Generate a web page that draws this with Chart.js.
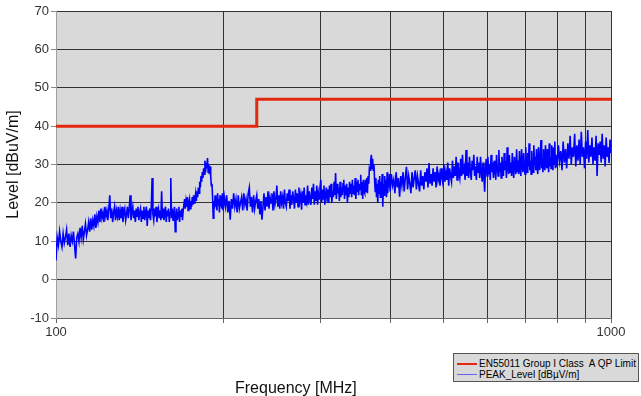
<!DOCTYPE html>
<html>
<head>
<meta charset="utf-8">
<script src="https://cdn.jsdelivr.net/npm/chart.js@4.4.0/dist/chart.umd.min.js"></script>
<style>
body { margin: 0; background: #fff; }
#wrap { position: relative; width: 641px; height: 396px; font-family: "Liberation Sans", Arial, sans-serif; }
#xtitle { position: absolute; left: 235px; top: 379px; font-size: 16px; color: #111; }
#legend { position: absolute; left: 453px; top: 353px; width: 186px; height: 29px; background: #d9d9d9; border: 1px solid #555; box-sizing: border-box; padding: 4px 0 0 3px; }
.row { display: flex; align-items: center; height: 11px; font-size: 10px; color: #000; white-space: pre; }
.swatch { flex: none; width: 20px; margin-right: 2px; }
</style>
</head>
<body>
<div id="wrap">
  <canvas id="emc" width="641" height="396"></canvas>
  <div id="xtitle">Frequency [MHz]</div>
  <div id="legend"></div>
</div>
<script>
// limit line
const limitFreq = [100, 230, 230, 1000];
const limitLevel = [40, 40, 47, 47];

// peak sweep, 100-199.5 MHz
const sweepFreqA = [100,100.5,101,101.5,102,102.5,103,103.5,104,104.5,
  105,105.5,106,106.5,107,107.5,108,108.5,109,109.5,
  110,110.5,111,111.5,112,112.5,113,113.5,114,114.5,
  115,115.5,116,116.5,117,117.5,118,118.5,119,119.5,
  120,120.5,121,121.5,122,122.5,123,123.5,124,124.5,
  125,125.5,126,126.5,127,127.5,128,128.5,129,129.5,
  130,130.5,131,131.5,132,132.5,133,133.5,134,134.5,
  135,135.5,136,136.5,137,137.5,138,138.5,139,139.5,
  140,140.5,141,141.5,142,142.5,143,143.5,144,144.5,
  145,145.5,146,146.5,147,147.5,148,148.5,149,149.5,
  150,150.5,151,151.5,152,152.5,153,153.5,154,154.5,
  155,155.5,156,156.5,157,157.5,158,158.5,159,159.5,
  160,160.5,161,161.5,162,162.5,163,163.5,164,164.5,
  165,165.5,166,166.5,167,167.5,168,168.5,169,169.5,
  170,170.5,171,171.5,172,172.5,173,173.5,174,174.5,
  175,175.5,176,176.5,177,177.5,178,178.5,179,179.5,
  180,180.5,181,181.5,182,182.5,183,183.5,184,184.5,
  185,185.5,186,186.5,187,187.5,188,188.5,189,189.5,
  190,190.5,191,191.5,192,192.5,193,193.5,194,194.5,
  195,195.5,196,196.5,197,197.5,198,198.5,199,199.5];
const peakLevelA = [5,11,9,12.5,10,8.5,12,9.5,11,13,
  9,12,8.5,11.5,10,12.5,9,5.5,11,12,
  10,13.5,11,14,10.5,12.5,14.5,11.5,13,15,
  12.5,16,13,15.5,14,17,13.5,16.5,15,18,
  15,18.5,16,17.5,15,19,16.5,18,15.5,18.5,
  22,16,18.5,15,17.5,19,15.5,18,16.5,19,
  15.5,18,16,19,15,17.5,18.5,15.5,17,19,
  16,18.5,22,15.5,17.5,19,16,18,15,18.5,
  16.5,19,15.5,17.5,18.5,15,18,16,19,15.5,
  17.5,19,14,18,16,18.5,15.5,19,26.5,17,
  15.5,18.5,16.5,19,15,17.5,18.5,16,18,15.5,
  23,16,18.5,15.5,17.5,19,15,18,16.5,18.5,
  15,17.5,26.5,16,18.5,15.5,17,19,12.5,16,
  18.5,15.5,17.5,19,15,18,16.5,18.5,15.5,18,
  18,21,18.5,20.5,19,21.5,18,20,21,18.5,
  20.5,19,21.5,19.5,22,20,21,22.5,20.5,23,
  21.5,24,22.5,25.5,24,27,25.5,28,26.5,29,
  27.5,31,28,30.5,29,31.7,28,30,27.5,29.5,
  27,24.5,25,21.5,16,20.5,18.5,22,19,21,
  18,22.5,19.5,21,17.5,22,19,21.5,18.5,22.5];

// 200-399 MHz
const sweepFreqB = [200,201,202,203,204,205,206,207,208,209,
  210,211,212,213,214,215,216,217,218,219,
  220,221,222,223,224,225,226,227,228,229,
  230,231,232,233,234,235,236,237,238,239,
  240,241,242,243,244,245,246,247,248,249,
  250,251,252,253,254,255,256,257,258,259,
  260,261,262,263,264,265,266,267,268,269,
  270,271,272,273,274,275,276,277,278,279,
  280,281,282,283,284,285,286,287,288,289,
  290,291,292,293,294,295,296,297,298,299,
  300,301,302,303,304,305,306,307,308,309,
  310,311,312,313,314,315,316,317,318,319,
  320,321,322,323,324,325,326,327,328,329,
  330,331,332,333,334,335,336,337,338,339,
  340,341,342,343,344,345,346,347,348,349,
  350,351,352,353,354,355,356,357,358,359,
  360,361,362,363,364,365,366,367,368,369,
  370,371,372,373,374,375,376,377,378,379,
  380,381,382,383,384,385,386,387,388,389,
  390,391,392,393,394,395,396,397,398,399];
const peakLevelB = [18,21.5,19,22,17.5,20.5,15.6,21,18.5,22.5,
  19,21,17.5,22,18.5,20,21.5,18,22.5,19.5,
  21,18,22.5,24,19,21.5,17.5,22,18.5,20.5,
  22,18.5,21,17,20.5,15.6,19,22.5,18,21.5,
  19,23,18.5,21.5,20,22.5,18,23,19.5,21,
  24.5,19,22,18.5,23,20,21.5,18.5,23.5,20,
  19,22.5,20.5,23.5,18.5,22,19.5,23,21,18.5,
  23.5,20,22.5,19,24,20.5,22,18.2,23,20,
  24,19.5,22,20.5,24.5,19.5,23,21,19.5,24,
  21,25,19.5,23,20.5,24.5,19.5,22.5,21,24,
  26,20,23.5,21,24.5,19.5,22,24,20.5,23.5,
  20,24.5,21.5,25,20,23,21.5,25.5,22,27.8,
  21,25,22.5,24,20.5,25.5,21.5,24,22,25,
  26,21,24.5,22,25,20,24,21.5,25.5,22.5,
  25,21.5,26,22.5,24.5,22,26.5,21,25.5,23,
  26,22,25,23.5,27.3,22,25.5,21,26,23,
  22.5,26,23,26.5,22.5,27,25,29,28.5,31,
  32.5,29,31.5,28.5,30,26,23,26.5,21.5,25,
  20,26,22.5,27,21.5,25.5,23,27.5,19,25,
  22,27,23.5,26,21.5,28,22.5,26.5,24,27.5];

// 400-798 MHz
const sweepFreqC = [400,402,404,406,408,410,412,414,416,418,
  420,422,424,426,428,430,432,434,436,438,
  440,442,444,446,448,450,452,454,456,458,
  460,462,464,466,468,470,472,474,476,478,
  480,482,484,486,488,490,492,494,496,498,
  500,502,504,506,508,510,512,514,516,518,
  520,522,524,526,528,530,532,534,536,538,
  540,542,544,546,548,550,552,554,556,558,
  560,562,564,566,568,570,572,574,576,578,
  580,582,584,586,588,590,592,594,596,598,
  600,602,604,606,608,610,612,614,616,618,
  620,622,624,626,628,630,632,634,636,638,
  640,642,644,646,648,650,652,654,656,658,
  660,662,664,666,668,670,672,674,676,678,
  680,682,684,686,688,690,692,694,696,698,
  700,702,704,706,708,710,712,714,716,718,
  720,722,724,726,728,730,732,734,736,738,
  740,742,744,746,748,750,752,754,756,758,
  760,762,764,766,768,770,772,774,776,778,
  780,782,784,786,788,790,792,794,796,798];
const peakLevelC = [23,27.5,24.5,26,22.5,28,24,26.5,21.6,27,
  24.5,28,23,26.5,29.4,23.5,27,25,22.5,28,
  24,26.5,28.5,23.5,27,25,23,28.5,24.5,27,
  23.5,28,25.5,29,24,30.4,25,27.5,24.5,29,
  25.5,28,24,29.5,26,27.5,24.5,29,26.5,25,
  30,25.5,28,26,30.5,24.5,29,27,25.5,31,
  26.5,29.5,27,32,26,30.5,28,26.5,31.5,27,
  32.5,27.5,29,26,33.8,27,30.5,26.5,32,28,
  26,31,28.5,32.5,27,29.5,26,32,28,30.5,
  26.5,32,28,25.5,30.5,27,22.9,29,31.5,27,
  32,27.5,30,26,32.5,28,30.5,26.5,31,28.5,
  26,32.5,29,27,33.8,28,30.5,26.5,32,29,
  27,33,28.5,31,26.5,34.5,29,27.5,32.5,28,
  30.5,27,33,28.5,26.5,32,29.5,27.5,34,28,
  31,27.5,33.5,29,27,34,30,28,33,29.5,
  27.5,34.5,30,28,33,29.5,35.5,28.5,31,27.5,
  33.5,29,28,35,30,32,28.5,34,29.5,27.5,
  34.5,30,28.5,33.5,36.4,29,31.5,28,34,30,
  28.5,35,30.5,29,34,31,28,35.5,29.5,32,
  29,35,31,28.5,34.5,30,36,29,32.5,30];

// 800-1000 MHz
const sweepFreqD = [800,804,808,812,816,820,824,828,832,836,
  840,844,848,852,856,860,864,868,872,876,
  880,884,888,892,896,900,904,908,912,916,
  920,924,928,932,936,940,944,948,952,956,
  960,964,968,972,976,980,984,988,992,996,
  1000];
const peakLevelD = [29.5,35,31,33.5,28.5,36,30.5,34,29,35.5,
  31.5,37.5,30,34.5,32,38,29.5,35,31,36.5,
  30,38.5,32,34.5,29,36,31.5,39,30.5,35,
  32,37,30,34.5,31,37.5,27,35.5,32.5,36,
  30.5,38,31.5,35,29.5,37,32,34.5,30.4,36.5,
  33];

const xGrid = [100, 200, 300, 400, 500, 600, 700, 800, 900, 1000];
const xLabels = [100, 1000];

const peakFreq = sweepFreqA.concat(sweepFreqB, sweepFreqC, sweepFreqD);
const peakLevel = peakLevelA.concat(peakLevelB, peakLevelC, peakLevelD);

function toPoints(xs, ys) {
  return xs.map((x, i) => ({ x: x, y: ys[i] }));
}

// grey plot area
const plotBg = {
  id: 'plotBg',
  beforeDraw(chart) {
    const a = chart.chartArea, ctx = chart.ctx;
    ctx.save();
    ctx.fillStyle = '#d9d9d9';
    ctx.fillRect(a.left, a.top, a.right - a.left, a.bottom - a.top);
    ctx.restore();
  }
};

Chart.defaults.font.family = '"Liberation Sans", Arial, sans-serif';

const chart = new Chart(document.getElementById('emc').getContext('2d'), {
  type: 'line',
  data: {
    datasets: [{
      label: 'EN55011 Group I Class  A QP Limit',
      data: toPoints(limitFreq, limitLevel),
      borderColor: '#e2280f',
      borderWidth: 3,
      pointRadius: 0,
      fill: false
    }, {
      label: 'PEAK_Level [dBµV/m]',
      data: toPoints(peakFreq, peakLevel),
      borderColor: '#0000ff',
      borderWidth: 1.6,
      pointRadius: 0,
      fill: false
    }]
  },
  options: {
    responsive: false,
    animation: false,
    devicePixelRatio: 1,
    layout: { padding: { left: 0, right: 30, top: 11, bottom: 0 } },
    plugins: { legend: { display: false }, tooltip: { enabled: false } },
    scales: {
      x: {
        type: 'logarithmic',
        min: 100,
        max: 1000,
        afterBuildTicks: (scale) => { scale.ticks = xGrid.map(v => ({ value: v })); },
        afterFit: (scale) => { scale.height = 78; },
        ticks: {
          autoSkip: false,
          maxRotation: 0,
          padding: 2,
          color: '#333',
          font: { size: 13 },
          callback: (v) => xLabels.includes(v) ? String(v) : ''
        },
        grid: { color: '#333', tickColor: '#666', tickLength: 5 },
        border: { color: '#666' }
      },
      y: {
        min: -10,
        max: 70,
        afterFit: (scale) => { scale.width = 56; },
        ticks: { stepSize: 10, padding: 2, color: '#333', font: { size: 13 } },
        grid: { color: '#333', tickColor: '#888', tickLength: 5 },
        border: { color: '#a0a0a0' },
        title: { display: true, text: 'Level [dBuV/m]', color: '#111', font: { size: 16 }, padding: { top: 4, bottom: 0 } }
      }
    }
  },
  plugins: [plotBg]
});

// legend box built from the datasets
const legend = document.getElementById('legend');
chart.data.datasets.forEach(ds => {
  const row = document.createElement('div');
  row.className = 'row';
  const sw = document.createElement('span');
  sw.className = 'swatch';
  sw.style.borderTop = ds.borderWidth > 2 ? '2px solid ' + ds.borderColor : '1px solid rgba(0,0,255,0.55)';
  row.appendChild(sw);
  row.appendChild(document.createTextNode(ds.label));
  legend.appendChild(row);
});
</script>
</body>
</html>
